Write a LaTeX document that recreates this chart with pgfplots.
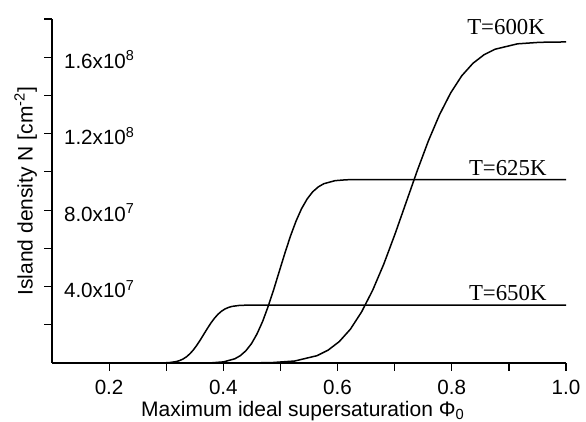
\documentclass[border=0pt]{standalone}
\usepackage{fontspec}
\setmainfont{Liberation Sans}
\newfontfamily\seriffont{Liberation Serif}
\usepackage{pgfplots}
\pgfplotsset{compat=1.18}

\pgfplotstableread{
x N
0.420 0
0.447 3.4e4
0.486 2.3e5
0.525 1.04e6
0.564 3.83e6
0.5835 6.74e6
0.603 1.12e7
0.6225 1.77e7
0.642 2.67e7
0.6615 3.81e7
0.681 5.18e7
0.7005 6.74e7
0.720 8.40e7
0.7395 1.006e8
0.759 1.162e8
0.7785 1.299e8
0.798 1.413e8
0.8175 1.503e8
0.837 1.568e8
0.8565 1.613e8
0.876 1.642e8
0.915 1.670e8
0.954 1.678e8
1.000 1.680e8
}\tsixhundred

\pgfplotstableread{
x N
0.325 0
0.3615 1.9e4
0.381 1.3e5
0.4005 5.95e5
0.420 2.19e6
0.4298 3.85e6
0.4395 6.41e6
0.4493 1.014e7
0.459 1.524e7
0.4688 2.175e7
0.4785 2.962e7
0.4883 3.852e7
0.498 4.80e7
0.5078 5.748e7
0.5175 6.638e7
0.5273 7.425e7
0.537 8.076e7
0.5468 8.586e7
0.5565 8.959e7
0.5663 9.215e7
0.576 9.381e7
0.5955 9.54e7
0.615 9.587e7
0.635 9.598e7
1.000 9.60e7
}\tsixtwofive

\pgfplotstableread{
x N
0.260 0
0.2799 6e3
0.2922 4.1e4
0.3045 1.88e5
0.3168 6.91e5
0.3230 1.215e6
0.3291 2.024e6
0.3353 3.20e6
0.3414 4.81e6
0.3476 6.87e6
0.3537 9.35e6
0.3599 1.216e7
0.366 1.515e7
0.3722 1.814e7
0.3783 2.095e7
0.3845 2.343e7
0.3906 2.549e7
0.3968 2.710e7
0.4029 2.828e7
0.4091 2.908e7
0.4152 2.961e7
0.4275 3.011e7
0.4398 3.026e7
1.000 3.030e7
}\tsixfifty

\begin{document}
\begin{tikzpicture}
\begin{axis}[
    scale only axis,
    width=257pt, height=172pt,
    xmin=0.1, xmax=1.0,
    ymin=0, ymax=1.8e8,
    axis lines*=left,
    axis line style={line width=0.6pt},
    tick align=outside,
    major tick length=4pt, minor tick length=4pt,
    tick style={line width=0.6pt, black},
    xtick={0.2,0.4,0.6,0.8,1.0},
    xticklabels={0.2,0.4,0.6,0.8,1.0},
    minor xtick={0.3,0.5,0.7,0.9},
    ytick={4e7,8e7,1.2e8,1.6e8},
    yticklabels={4.0x10\textsuperscript{7},8.0x10\textsuperscript{7},1.2x10\textsuperscript{8},1.6x10\textsuperscript{8}},
    minor ytick={2e7,6e7,1e8,1.4e8,1.8e8},
    scaled y ticks=false,
    ticklabel style={font=\fontsize{10.3}{12}\selectfont},
    yticklabel style={anchor=base west, xshift=6.5pt, yshift=-5.5pt},
    xticklabel style={yshift=-1pt},
    xlabel={Maximum ideal supersaturation Φ\textsubscript{0}},
    ylabel={Island density N [cm\textsuperscript{-2}]},
    label style={font=\fontsize{10.5}{12}\selectfont},
    xlabel style={yshift=3.5pt, xshift=-3pt},
    ylabel style={yshift=0pt},
    every axis plot/.append style={line width=0.75pt, black},
    clip=false,
]
\addplot[no markers] table[x=x, y=N] {\tsixhundred};
\addplot[no markers] table[x=x, y=N] {\tsixtwofive};
\addplot[no markers] table[x=x, y=N] {\tsixfifty};
\node[font=\seriffont\fontsize{11.4}{12}\selectfont] at (axis cs:0.895,1.757e8) {T=600K};
\node[font=\seriffont\fontsize{11.4}{12}\selectfont] at (axis cs:0.898,1.02e8) {T=625K};
\node[font=\seriffont\fontsize{11.4}{12}\selectfont] at (axis cs:0.898,3.66e7) {T=650K};
\coordinate (bl) at (rel axis cs:0,0);
\coordinate (tr) at (rel axis cs:1,1);
\end{axis}
\pgfresetboundingbox
\path[use as bounding box] ([shift={(-26pt,-29pt)}]bl) rectangle ([shift={(10pt,9.5pt)}]tr);
\end{tikzpicture}
\end{document}
